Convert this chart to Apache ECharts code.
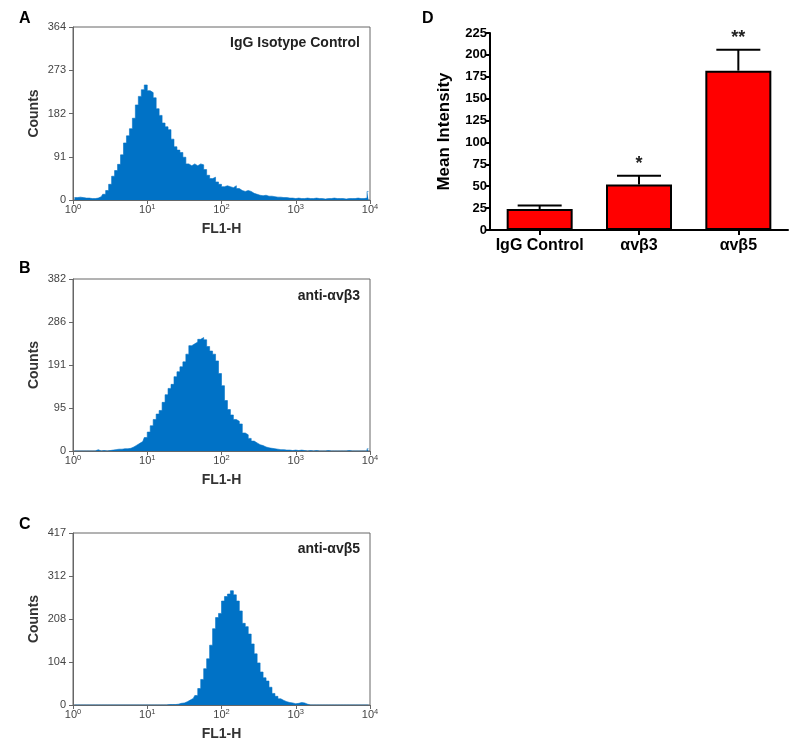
<!DOCTYPE html>
<html>
<head>
<meta charset="utf-8">
<script src="https://cdn.jsdelivr.net/npm/echarts@6/dist/echarts.min.js"></script>
<style>html,body{margin:0;padding:0;background:#fff}#c{width:800px;height:748px}</style>
</head>
<body>
<div id="c"></div>
<script>
// ---------- data ----------
// histogram bins: 100 bins over log10(FL1-H) 0..4, bin width 0.04 decade
const binWidth = 0.04;
const countsA = [5,5,6,5,4,4,3,3,4,7, 12,20,33,50,62,75,95,120,135,150,
  172,200,218,232,242,230,226,215,192,178, 162,154,148,128,112,105,100,90,76,72,
  76,72,76,74,64,52,45,48,38,33, 28,30,28,26,30,24,20,18,20,18,
  14,12,10,9,10,8,8,7,6,6, 5,5,4,4,3,4,3,3,4,3,
  3,4,3,3,2,3,3,4,3,3, 3,2,3,3,3,4,3,3,4,18];
const countsB = [0,0,0,0,0,0,0,0,3,0, 1,0,1,2,3,4,4,5,5,6,
  9,13,17,21,30,42,56,70,82,90, 108,125,139,148,165,176,187,198,215,234,
  238,242,248,252,247,232,222,215,200,172, 145,112,92,80,70,66,60,40,36,28,
  22,18,14,12,9,7,6,5,4,3, 3,2,2,1,2,1,2,1,0,1,
  0,1,0,0,0,1,0,0,0,0, 0,0,1,0,0,0,0,0,0,5];
const countsC = [0,0,0,0,0,0,0,0,0,0, 0,0,0,0,0,0,0,0,0,0,
  0,0,0,0,0,0,0,0,0,0, 0,0,1,1,1,2,4,5,8,12,
  16,23,40,62,88,112,145,185,212,222, 252,263,269,277,267,252,228,198,190,172,
  148,124,102,80,66,58,43,28,21,15, 11,8,6,5,3,4,6,5,2,0,
  0,0,0,0,0,0,0,0,0,0, 0,0,0,0,0,0,0,0,0,0];
const yTicksA = [0,91,182,273,364];
const yTicksB = [0,95,191,286,382];
const yTicksC = [0,104,208,312,417];
const xDecades = [0,1,2,3,4];
const panelLabels = ['IgG Isotype Control','anti-\u03b1v\u03b23','anti-\u03b1v\u03b25'];

// bar chart D
const barCategories = ['IgG Control','\u03b1v\u03b23','\u03b1v\u03b25'];
const barMeans = [24, 52, 182];
const barErrTop = [28, 62, 206];
const sigLabels = ['', '*', '**'];
const yTicksD = [0,25,50,75,100,125,150,175,200,225];

// ---------- chart ----------
const chart = echarts.init(document.getElementById('c'));
const font = 'Arial, "Liberation Sans", sans-serif';
const blue = '#0072c6';
const axisGrey = '#666';

function toPairs(arr){ return arr.map((v,i)=>[(i+0.5)*binWidth, v]); }
function nearestTick(ticks){ return v => { let b=ticks[0]; ticks.forEach(t=>{ if(Math.abs(t-v)<Math.abs(b-v)) b=t; }); return String(b); }; }

const gridsH = [
  {left:73, top:27, width:297, height:173},
  {left:73, top:279, width:297, height:172},
  {left:73, top:533, width:297, height:172}
];
const histData = [countsA, countsB, countsC];
const histTicks = [yTicksA, yTicksB, yTicksC];

const grid = gridsH.map(g => Object.assign({show:true, borderColor:axisGrey, borderWidth:1, backgroundColor:'transparent'}, g));
grid.push({left:490, top:33, width:298, height:197});

const xAxis = [], yAxis = [], series = [];
for (let k=0;k<3;k++){
  xAxis.push({
    gridIndex:k, type:'value', min:xDecades[0], max:xDecades[xDecades.length-1], interval:1,
    name:'FL1-H', nameLocation:'middle', nameGap:22,
    nameTextStyle:{fontFamily:font, fontSize:14, fontWeight:'bold', color:'#333'},
    axisLine:{show:true, lineStyle:{color:axisGrey, width:1}},
    axisTick:{show:true, length:4, lineStyle:{color:axisGrey}},
    splitLine:{show:false},
    axisLabel:{margin:3, formatter: v => '{b|10}{s|' + v + '}',
      rich:{ b:{fontFamily:font, fontSize:11, color:'#444'},
             s:{fontFamily:font, fontSize:7.5, color:'#444', verticalAlign:'top', padding:[0,0,6,0]} } }
  });
  const t = histTicks[k];
  yAxis.push({
    gridIndex:k, type:'value', min:0, max:t[t.length-1], interval:t[t.length-1]/4,
    name:'Counts', nameLocation:'middle', nameGap:32,
    nameTextStyle:{fontFamily:font, fontSize:14, fontWeight:'bold', color:'#333'},
    axisLine:{show:true, lineStyle:{color:axisGrey, width:1}},
    axisTick:{show:true, length:4, lineStyle:{color:axisGrey}},
    splitLine:{show:false},
    axisLabel:{margin:7, fontFamily:font, fontSize:11, color:'#444', formatter: nearestTick(t)}
  });
  series.push({
    type:'line', xAxisIndex:k, yAxisIndex:k, data: toPairs(histData[k]),
    step:'middle', symbol:'none', silent:true,
    lineStyle:{color:blue, width:0.6}, areaStyle:{color:blue, opacity:1}
  });
}

// panel D axes
xAxis.push({
  gridIndex:3, type:'category', data:barCategories, boundaryGap:true,
  axisLine:{show:true, lineStyle:{color:'#000', width:2}},
  axisTick:{show:true, alignWithLabel:true, length:5, lineStyle:{color:'#000', width:2}},
  axisLabel:{margin:8, interval:0, hideOverlap:false, fontFamily:font, fontSize:16, fontWeight:'bold', color:'#000'}
});
yAxis.push({
  gridIndex:3, type:'value', min:0, max:yTicksD[yTicksD.length-1], interval:25,
  name:'Mean Intensity', nameLocation:'middle', nameGap:37,
  nameTextStyle:{fontFamily:font, fontSize:17, fontWeight:'bold', color:'#000'},
  axisLine:{show:true, lineStyle:{color:'#000', width:2}},
  axisTick:{show:true, length:5, lineStyle:{color:'#000', width:2}},
  splitLine:{show:false},
  axisLabel:{margin:3, fontFamily:font, fontSize:13, fontWeight:'bold', color:'#000'}
});
series.push({
  type:'bar', xAxisIndex:3, yAxisIndex:3, data:barMeans, barWidth:66,
  itemStyle:{color:'#ff0000', borderColor:'#000', borderWidth:2}, silent:true
});
series.push({
  type:'custom', xAxisIndex:3, yAxisIndex:3, silent:true, z:5,
  data: barMeans.map((m,i)=>[i, m, barErrTop[i]]),
  renderItem:(params, api) => {
    const base = api.coord([api.value(0), api.value(1)]);
    const top = api.coord([api.value(0), api.value(2)]);
    const half = 22;
    const children = [
      {type:'line', shape:{x1:base[0], y1:base[1], x2:top[0], y2:top[1]}, style:{stroke:'#000', lineWidth:2}},
      {type:'line', shape:{x1:top[0]-half, y1:top[1], x2:top[0]+half, y2:top[1]}, style:{stroke:'#000', lineWidth:2}}
    ];
    const s = sigLabels[params.dataIndex];
    if (s) children.push({type:'text', x:top[0], y:top[1]-3,
      style:{text:s, fontFamily:font, fontSize:18, fontWeight:'bold', fill:'#222', textAlign:'center', textVerticalAlign:'bottom'}});
    return {type:'group', children};
  }
});

const letterStyle = {fontFamily:font, fontSize:16, fontWeight:'bold', color:'#000'};
const innerStyle = {fontFamily:font, fontSize:14, fontWeight:'bold', color:'#222'};
const title = [
  {text:'A', left:14, top:6, textStyle:letterStyle},
  {text:'B', left:14, top:256, textStyle:letterStyle},
  {text:'C', left:14, top:512, textStyle:letterStyle},
  {text:'D', left:417, top:6, textStyle:letterStyle},
  {text:panelLabels[0], right:440, top:36, textStyle:innerStyle, padding:0},
  {text:panelLabels[1], right:440, top:289, textStyle:innerStyle, padding:0},
  {text:panelLabels[2], right:440, top:542, textStyle:innerStyle, padding:0}
];

chart.setOption({animation:false, backgroundColor:'#fff', title, grid, xAxis, yAxis, series});
</script>
</body>
</html>
